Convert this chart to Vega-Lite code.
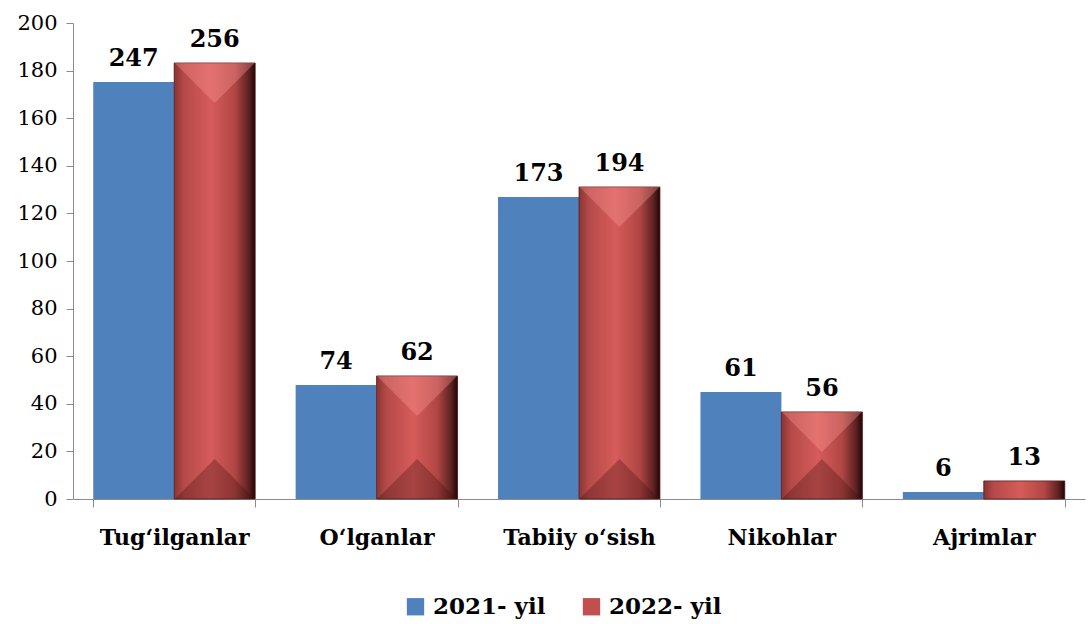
{
  "$schema": "https://vega.github.io/schema/vega-lite/v6.json",
  "width": 1012,
  "height": 476,
  "autosize": {"type": "none"},
  "padding": {"left": 73, "top": 23, "right": 3, "bottom": 125},
  "background": "white",
  "config": {"view": {"stroke": null}, "font": "DejaVu Serif"},
  "data": {"values": [
    {"cat": "Tug‘ilganlar", "year": "2021- yil", "value": 175.2, "label": "247"},
    {"cat": "Tug‘ilganlar", "year": "2022- yil", "value": 183.2, "label": "256"},
    {"cat": "O‘lganlar", "year": "2021- yil", "value": 47.9, "label": "74"},
    {"cat": "O‘lganlar", "year": "2022- yil", "value": 51.7, "label": "62"},
    {"cat": "Tabiiy o‘sish", "year": "2021- yil", "value": 126.9, "label": "173"},
    {"cat": "Tabiiy o‘sish", "year": "2022- yil", "value": 131.1, "label": "194"},
    {"cat": "Nikohlar", "year": "2021- yil", "value": 45.0, "label": "61"},
    {"cat": "Nikohlar", "year": "2022- yil", "value": 36.6, "label": "56"},
    {"cat": "Ajrimlar", "year": "2021- yil", "value": 2.9, "label": "6"},
    {"cat": "Ajrimlar", "year": "2022- yil", "value": 7.6, "label": "13"}
  ]},
  "encoding": {
    "x": {"field": "cat", "type": "nominal", "sort": null,
      "scale": {"paddingInner": 0.2, "paddingOuter": 0.1},
      "axis": {"title": null, "labelAngle": 0, "labelFont": "DejaVu Serif", "labelFontSize": 22, "labelFontWeight": "bold", "labelColor": "black",
        "tickBand": "extent", "tickSize": 8, "tickColor": "#8c8c8c", "domainColor": "#8c8c8c", "labelPadding": 20, "grid": false}},
    "xOffset": {"field": "year", "type": "nominal", "sort": null},
    "y": {"field": "value", "type": "quantitative",
      "scale": {"domain": [0, 200]},
      "axis": {"title": null, "values": [0,20,40,60,80,100,120,140,160,180,200], "grid": false, "labelFont": "DejaVu Serif", "labelFontSize": 21, "labelColor": "black",
        "tickSize": 7, "tickColor": "#8c8c8c", "domainColor": "#8c8c8c", "labelPadding": 9}}
  },
  "layer": [
    {
      "mark": {"type": "bar"},
      "encoding": {
        "color": {"field": "year", "type": "nominal", "sort": null,
          "scale": {"range": ["#4F81BD", "#C0504D"]},
          "legend": {"title": null, "orient": "none", "legendX": 331, "legendY": 572, "direction": "horizontal", "symbolType": "square", "symbolSize": 300, "symbolStrokeWidth": 0,
            "labelFont": "DejaVu Serif", "labelFontSize": 23, "labelFontWeight": "bold", "labelColor": "black", "columnPadding": 34, "labelOffset": 6}}
      }
    },
    {
      "transform": [{"filter": "datum.year === '2022- yil'"}],
      "mark": {"type": "bar", "stroke": "#5a1e1d", "strokeWidth": 0.8,
        "fill": {"gradient": "linear", "x1": 0, "y1": 0, "x2": 1, "y2": 0,
          "stops": [
            {"offset": 0, "color": "#8a3533"},
            {"offset": 0.12, "color": "#b44a48"},
            {"offset": 0.45, "color": "#d65c5a"},
            {"offset": 0.75, "color": "#b04644"},
            {"offset": 0.92, "color": "#5e2221"},
            {"offset": 1, "color": "#1e0606"}
          ]}}
    },
    {
      "transform": [{"filter": "datum.year === '2022- yil' && datum.value > 20"}],
      "mark": {"type": "point", "filled": true, "shape": "M -1 0 L 1 0 L 0 1 Z", "size": 6400, "color": "#ff9a98", "opacity": 0.35, "strokeWidth": 0}
    },
    {
      "transform": [{"filter": "datum.year === '2022- yil' && datum.value > 20"}],
      "mark": {"type": "point", "filled": true, "shape": "M -1 0 L 1 0 L 0 -1 Z", "size": 6400, "color": "#3a0e0e", "opacity": 0.3, "strokeWidth": 0},
      "encoding": {"y": {"datum": 0}}
    },
    {
      "mark": {"type": "text", "baseline": "bottom", "dy": -11, "font": "DejaVu Serif", "fontSize": 24, "fontWeight": "bold", "color": "black"},
      "encoding": {"text": {"field": "label"}}
    }
  ]
}
